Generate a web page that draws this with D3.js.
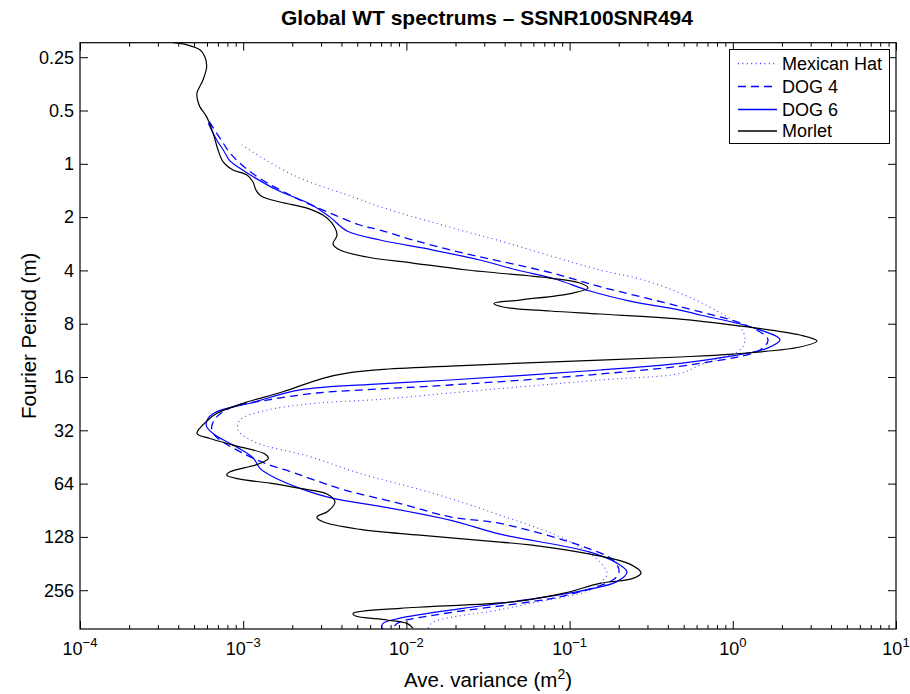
<!DOCTYPE html>
<html>
<head>
<meta charset="utf-8">
<script src="https://cdn.jsdelivr.net/npm/d3@7"></script>
<style>
  body { margin: 0; background: #fff; }
  svg { display: block; font-family: "Liberation Sans", Arial, Helvetica, sans-serif; }
</style>
</head>
<body>
<svg id="chart" width="910" height="694"></svg>
<script>
// ---------------- data (period [m], average variance [m^2]) ----------------
const mexicanHat = [
  [0.782,9.79e-4],[1.157,2.02e-3],[1.567,4.98e-3],[1.747,6.89e-3],[2.366,2.13e-2],[2.694,3.59e-2],
  [3.98,0.1536],[4.47,0.270],[5.37,0.475],[6.78,0.800],[8.32,1.107],[9.85,1.188],[11.25,1.107],
  [13.70,0.630],[15.25,0.475],[16.63,0.1536],[19.7,1.85e-2],[21.4,6.89e-3],[22.5,2.83e-3],
  [24.6,1.40e-3],[28.0,9.55e-4],[31.8,9.29e-4],[37.3,1.181e-3],[45.1,2.57e-3],[56.1,5.20e-3],
  [72.6,1.455e-2],[96.4,3.75e-2],[133.5,9.64e-2],[177.6,0.1536],[207,0.1695],[233,0.1536],
  [256,0.1334],[302,5.97e-2],[332,3.59e-2],[388,1.455e-2],[419,1.356e-2]
];
const dog4 = [
  [0.578,6.20e-4],[0.717,7.21e-4],[0.891,8.50e-4],[1.142,1.153e-3],[1.501,1.935e-3],[1.865,3.26e-3],
  [2.216,5.20e-3],[2.366,6.89e-3],[2.694,1.098e-2],[3.19,2.22e-2],[4.07,7.27e-2],[4.94,0.1536],
  [6.41,0.475],[8.32,1.274],[9.85,1.643],[11.25,1.468],[13.39,0.630],[15.39,0.1536],[17.75,1.85e-2],
  [18.69,6.89e-3],[19.7,2.83e-3],[21.6,1.40e-3],[23.6,8.66e-4],[26.8,6.91e-4],[30.5,6.41e-4],
  [33.3,6.56e-4],[36.3,7.21e-4],[43.2,1.0e-3],[49.7,1.40e-3],[55.2,2.0e-3],[59.9,2.57e-3],
  [69.6,4.2e-3],[82.9,9.14e-3],[98.6,1.85e-2],[107.4,3.75e-2],[145,0.1208],[173,0.1845],[200,0.201],
  [222,0.187],[273,9.64e-2],[298,5.72e-2],[332,2.35e-2],[357,1.395e-2],[386,9.14e-3],[404,8.51e-3],
  [425,8.35e-3]
];
const dog6 = [
  [0.590,6.11e-4],[0.733,6.88e-4],[0.835,7.55e-4],[0.963,8.30e-4],[1.060,9.55e-4],[1.183,1.153e-3],
  [1.406,1.611e-3],[1.687,2.57e-3],[2.0,3.40e-3],[2.396,4.33e-3],[2.694,6.89e-3],[3.069,1.455e-2],
  [3.494,2.82e-2],[3.98,4.76e-2],[4.47,8.14e-2],[5.23,0.1334],[5.96,0.2344],[6.70,0.475],[7.14,0.630],
  [8.32,1.274],[9.85,1.946],[11.02,1.620],[12.55,0.800],[13.39,0.475],[14.61,0.1536],[16.63,1.85e-2],
  [17.51,6.89e-3],[18.93,2.23e-3],[22.5,1.10e-3],[25.1,6.91e-4],[27.4,6.09e-4],[30.5,5.97e-4],
  [34.5,6.88e-4],[39.7,9.12e-4],[45.9,1.153e-3],[52.5,1.267e-3],[58.6,1.522e-3],[68.1,2.23e-3],
  [77.6,3.55e-3],[86.6,7.19e-3],[102.9,1.85e-2],[123.5,3.75e-2],[156,0.1334],[180,0.195],[202,0.2248],
  [229,0.195],[267,9.64e-2],[304,3.75e-2],[324,2.22e-2],[368,9.14e-3],[394,7.19e-3],[414,7.06e-3],
  [425,7.19e-3]
];
const morlet = [
  [0.207,3.72e-4],[0.213,4.53e-4],[0.227,5.43e-4],[0.249,5.83e-4],[0.284,5.97e-4],[0.336,5.67e-4],
  [0.398,5.21e-4],[0.436,5.25e-4],[0.477,5.43e-4],[0.543,5.97e-4],[0.669,6.53e-4],[0.835,7.01e-4],
  [0.951,7.41e-4],[1.016,7.85e-4],[1.084,8.66e-4],[1.157,1.055e-3],[1.267,1.148e-3],[1.406,1.197e-3],
  [1.520,1.285e-3],[1.644,1.681e-3],[1.778,2.46e-3],[1.947,3.08e-3],[2.157,3.49e-3],[2.524,3.76e-3],
  [2.838,3.55e-3],[3.069,3.92e-3],[3.361,5.74e-3],[3.635,1.098e-2],[3.98,2.35e-2],[4.42,7.59e-2],
  [4.71,0.1158],[5.03,0.1297],[5.37,0.1049],[5.88,4.97e-2],[6.14,3.44e-2],[6.44,3.91e-2],[6.78,7.59e-2],
  [7.05,0.1536],[7.53,0.475],[8.14,1.0],[9.26,2.58],[10.0,3.28],[10.83,2.58],[11.87,1.0],[12.33,0.475],
  [12.83,0.1536],[13.87,1.85e-2],[14.52,6.89e-3],[15.13,4.51e-3],[16.27,3.08e-3],[19.38,1.754e-3],
  [22.5,1.0e-3],[25.66,6.91e-4],[28.0,6.09e-4],[33.3,5.21e-4],[35.6,6.26e-4],[38.8,8.66e-4],
  [43.6,1.36e-3],[46.1,1.425e-3],[49.7,1.232e-3],[54.9,8.30e-4],[57.3,7.92e-4],[60.4,9.55e-4],
  [63.6,1.46e-3],[68.1,2.23e-3],[73.2,3.26e-3],[81.2,3.65e-3],[91.6,3.31e-3],[98.9,2.83e-3],
  [105.2,3.08e-3],[116.1,5.20e-3],[125.2,1.21e-2],[137,3.75e-2],[141.9,5.72e-2],[164.3,0.1536],
  [182.4,0.2344],[205,0.274],[219.6,0.2445],[234.3,0.1536],[267,9.11e-2],[298,4.50e-2],[317,1.395e-2],
  [324,9.14e-3],[346,4.71e-3],[357,4.84e-3],[377,7.61e-3],[394,1.008e-2],[419,1.098e-2]
];

const seriesNames = ["Mexican Hat", "DOG 4", "DOG 6", "Morlet"];
const xTickExponents = [-4, -3, -2, -1, 0, 1];
const yTickValues = [0.25, 0.5, 1, 2, 4, 8, 16, 32, 64, 128, 256];
const yTickLabels = ["0.25", "0.5", "1", "2", "4", "8", "16", "32", "64", "128", "256"];
const titleText = "Global WT spectrums \u2013 SSNR100SNR494";
const xLabelText = "Ave. variance (m";
const yLabelText = "Fourier Period (m)";

// ---------------- layout ----------------
const L = 80, R = 896, T = 42.7, B = 629;
const periodMin = 0.207, periodMax = 0.207 * 2048;

const svg = d3.select("#chart");
const x = d3.scaleLog().domain([1e-4, 1e1]).range([L, R]);
const y = d3.scaleLog().base(2).domain([periodMin, periodMax]).range([T, B]);

const styles = [
  { stroke: "#0000ff", dash: "1,3.4", width: 1.1, opacity: 0.75 },
  { stroke: "#0000ff", dash: "8,5", width: 1.3, opacity: 1 },
  { stroke: "#0000ff", dash: null, width: 1.2, opacity: 1 },
  { stroke: "#000000", dash: null, width: 1.2, opacity: 1 }
];
const allSeries = [mexicanHat, dog4, dog6, morlet];

svg.append("defs").append("clipPath").attr("id", "clip")
  .append("rect").attr("x", L).attr("y", T).attr("width", R - L).attr("height", B - T);

const line = d3.line()
  .x(d => x(d[1]))
  .y(d => y(d[0]))
  .curve(d3.curveCatmullRom.alpha(0.5));

const g = svg.append("g").attr("clip-path", "url(#clip)");
allSeries.forEach((s, i) => {
  g.append("path")
    .attr("d", line(s))
    .attr("fill", "none")
    .attr("stroke", styles[i].stroke)
    .attr("stroke-opacity", styles[i].opacity)
    .attr("stroke-width", styles[i].width)
    .attr("stroke-dasharray", styles[i].dash);
});

// ---------------- axes ----------------
const majorX = xTickExponents.map(e => Math.pow(10, e));
const minorX = [];
for (let e = -4; e < 1; e++) for (let m = 2; m <= 9; m++) minorX.push(m * Math.pow(10, e));

function styleAxis(sel) {
  sel.selectAll(".domain").remove();
  sel.selectAll(".tick line").attr("stroke", "#000").attr("stroke-width", 1);
}
svg.append("g").attr("transform", `translate(0,${B})`)
  .call(d3.axisBottom(x).tickValues(majorX).tickSize(-8).tickFormat("")).call(styleAxis);
svg.append("g").attr("transform", `translate(0,${B})`)
  .call(d3.axisBottom(x).tickValues(minorX).tickSize(-4).tickFormat("")).call(styleAxis);
svg.append("g").attr("transform", `translate(0,${T})`)
  .call(d3.axisTop(x).tickValues(majorX).tickSize(-8).tickFormat("")).call(styleAxis);
svg.append("g").attr("transform", `translate(0,${T})`)
  .call(d3.axisTop(x).tickValues(minorX).tickSize(-4).tickFormat("")).call(styleAxis);
svg.append("g").attr("transform", `translate(${L},0)`)
  .call(d3.axisLeft(y).tickValues(yTickValues).tickSize(-8).tickFormat("")).call(styleAxis);
svg.append("g").attr("transform", `translate(${R},0)`)
  .call(d3.axisRight(y).tickValues(yTickValues).tickSize(-8).tickFormat("")).call(styleAxis);

// frame
svg.append("rect").attr("x", L).attr("y", T).attr("width", R - L).attr("height", B - T)
  .attr("fill", "none").attr("stroke", "#000").attr("stroke-width", 1.2);

// y tick labels
svg.append("g").selectAll("text").data(yTickValues).join("text")
  .attr("x", L - 6).attr("y", d => y(d)).attr("dy", "0.35em")
  .attr("text-anchor", "end").attr("font-size", 18).attr("fill", "#000")
  .text((d, i) => yTickLabels[i]);

// x tick labels (10^e)
const xl = svg.append("g").selectAll("text").data(xTickExponents).join("text")
  .attr("x", d => x(Math.pow(10, d))).attr("y", B + 26)
  .attr("text-anchor", "middle").attr("font-size", 18).attr("fill", "#000");
xl.append("tspan").text("10");
xl.append("tspan").attr("dy", -8).attr("font-size", 13).text(d => (d < 0 ? "\u2212" : "") + Math.abs(d));

// title
svg.append("text").attr("x", (L + R) / 2 - 1).attr("y", 25).attr("text-anchor", "middle")
  .attr("font-size", 21).attr("font-weight", "bold").text(titleText);

// x label
const xlab = svg.append("text").attr("x", (L + R) / 2).attr("y", 687).attr("text-anchor", "middle")
  .attr("font-size", 20.5);
xlab.append("tspan").text(xLabelText);
xlab.append("tspan").attr("dy", -8).attr("font-size", 14).text("2");
xlab.append("tspan").attr("dy", 8).text(")");

// y label
svg.append("text").attr("transform", `translate(36,${(T + B) / 2}) rotate(-90)`)
  .attr("text-anchor", "middle").attr("font-size", 20.5).text(yLabelText);

// ---------------- legend ----------------
const lg = svg.append("g");
lg.append("rect").attr("x", 729.5).attr("y", 49.5).attr("width", 160).attr("height", 94)
  .attr("fill", "#fff").attr("stroke", "#000").attr("stroke-width", 1);
const rowY = [63.5, 86.5, 109.5, 131];
seriesNames.forEach((name, i) => {
  lg.append("line").attr("x1", 738).attr("x2", 777).attr("y1", rowY[i]).attr("y2", rowY[i])
    .attr("stroke", styles[i].stroke).attr("stroke-opacity", styles[i].opacity)
    .attr("stroke-width", 1.4)
    .attr("stroke-dasharray", styles[i].dash);
  lg.append("text").attr("x", 782).attr("y", rowY[i]).attr("dy", "0.35em")
    .attr("font-size", 18).text(name);
});
</script>
</body>
</html>
